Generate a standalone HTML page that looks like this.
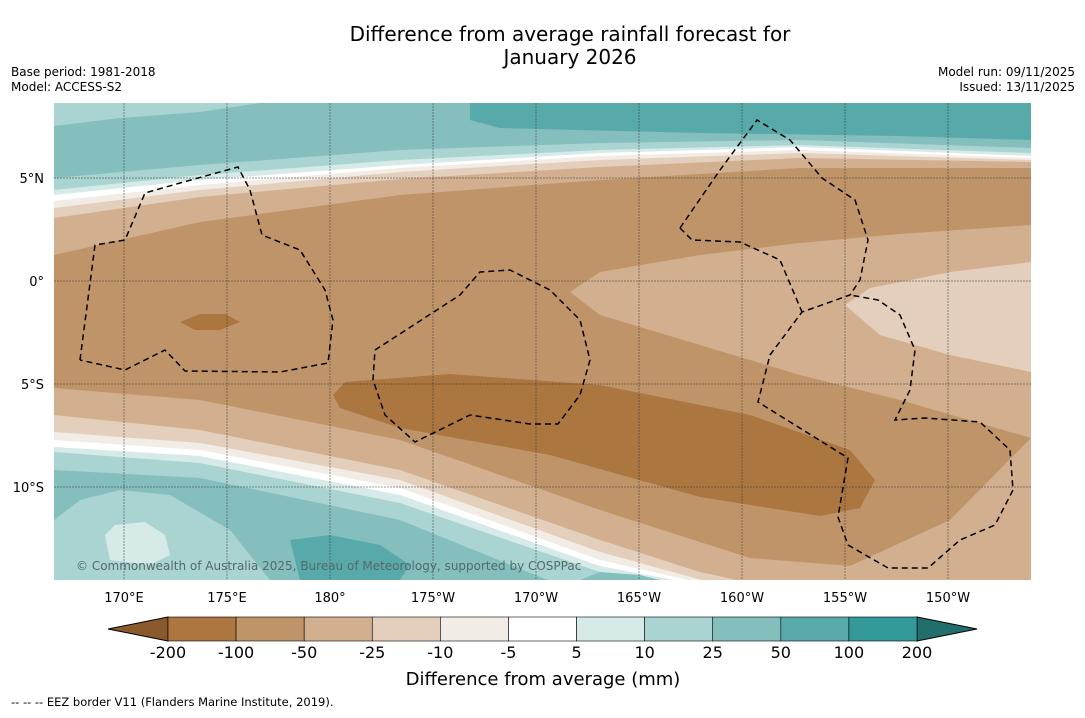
<!DOCTYPE html>
<html><head><meta charset="utf-8"><style>
body{margin:0;background:#fff;width:1085px;height:713px;overflow:hidden;font-family:"Liberation Sans","DejaVu Sans",sans-serif}
svg text{font-family:"DejaVu Sans","Liberation Sans",sans-serif}
</style></head><body>
<svg id="s" width="1085" height="713" xmlns="http://www.w3.org/2000/svg">
<text x="570" y="41" font-size="20" text-anchor="middle">Difference from average rainfall forecast for</text>
<text x="570" y="64" font-size="20" text-anchor="middle">January 2026</text>
<text x="11" y="76" font-size="12">Base period: 1981-2018</text>
<text x="11" y="91" font-size="12">Model: ACCESS-S2</text>
<text x="1075" y="76" font-size="12" text-anchor="end">Model run: 09/11/2025</text>
<text x="1075" y="91" font-size="12" text-anchor="end">Issued: 13/11/2025</text>
<defs><clipPath id="mc"><rect x="54" y="103" width="977" height="477"/></clipPath></defs>
<g id="map" clip-path="url(#mc)"></g>
<g id="cb"></g>
<text x="543" y="685" font-size="18" text-anchor="middle">Difference from average (mm)</text>
<text x="11" y="706" font-size="11.5">--  --  -- EEZ border V11 (Flanders Marine Institute, 2019).</text>
</svg>
<script>
const levels=["-200","-100","-50","-25","-10","-5","5","10","25","50","100","200"];
const colors=["#ab7640","#c09469","#d2b08f","#e3cfbc","#f2ece6","#ffffff","#d6eae8","#a9d4d2","#84bfbe","#58aaaa","#339a99"];
const lonLabels=["170°E","175°E","180°","175°W","170°W","165°W","160°W","155°W","150°W"];
const lonValues=[170,175,180,185,190,195,200,205,210];
const latLabels=["5°N","0°","5°S","10°S"];
const latValues=[5,0,-5,-10];
const NS="http://www.w3.org/2000/svg";
const X=l=>124+(l-170)*20.6, Y=t=>281-t*20.6;
const map=document.getElementById('map'), cb=document.getElementById('cb'), svg=document.getElementById('s');
function poly(par,pts,fill,name){const p=document.createElementNS(NS,'polygon');p.setAttribute('points',pts.map(q=>q.join(',')).join(' '));p.setAttribute('fill',fill);


par.appendChild(p);return p;}
const B=600;
poly(map,[[54,103],[1031,103],[1031,B],[54,B]],colors[8],'band-25-50');
poly(map,[[54,103],[260,103],[200,112],[120,118],[54,126]],colors[7],'band-10-25-nw');
poly(map,[[470,103],[1031,103],[1031,140],[900,136],[700,133],[500,128],[470,120]],colors[9],'band-50-100-north');
const north=[
[7,[[54,178],[200,165],[400,150],[600,143],[800,140],[1031,148]]],
[6,[[54,190],[200,175],[400,160],[600,150],[800,145],[1031,153]]],
[5,[[54,195],[200,180],[400,165],[600,153],[800,147],[1031,156]]],
[4,[[54,201],[200,185],[400,168],[600,156],[800,150],[1031,158]]],
[3,[[54,208],[200,190],[400,172],[600,160],[800,153],[1031,160]]],
[2,[[54,218],[200,197],[400,179],[600,167],[800,158],[1031,162]]],
[1,[[54,255],[200,222],[400,195],[600,180],[800,168],[1031,168]]]];
north.forEach(([c,pts])=>poly(map,[...pts,[1031,B],[54,B]],colors[c],'north-band-'+c));
poly(map,[[570,292],[600,272],[700,255],[800,243],[900,234],[1031,225],[1031,438],[900,400],[800,375],[700,345],[600,315]],colors[2],'tan-wedge');
poly(map,[[845,305],[870,288],[950,272],[1031,262],[1031,372],[950,355],[880,335]],colors[3],'light-wedge');
poly(map,[[345,382],[450,374],[600,385],[750,415],[850,450],[875,480],[860,508],[820,516],[700,497],[550,455],[400,428],[340,408],[333,395]],colors[0],'dark-brown-blob');
poly(map,[[180,322],[200,314],[225,314],[240,322],[220,330],[195,330]],colors[0],'dark-brown-patch');
const south=[
[2,[[54,388],[200,400],[400,440],[600,510],[750,558],[850,566],[950,520],[1031,438]]],
[3,[[54,415],[200,430],[400,470],[600,540],[700,572],[760,585]]],
[4,[[54,432],[200,443],[400,480],[600,552],[720,585]]],
[5,[[54,440],[200,450],[400,488],[600,560],[710,585]]],
[6,[[54,447],[200,456],[400,495],[600,566],[700,585]]],
[7,[[54,452],[200,463],[400,503],[600,572],[690,587]]],
[8,[[54,470],[200,478],[400,520],[560,585]]]];
south.forEach(([c,pts])=>{const l=pts[pts.length-1];poly(map,[...pts,[l[0],B],[54,B]],colors[c],'south-band-'+c);});
poly(map,[[54,580],[54,520],[80,500],[120,490],[170,495],[230,530],[270,580]],colors[7],'band-10-25-sw');
poly(map,[[105,535],[115,525],[145,522],[165,535],[170,555],[150,565],[110,560]],colors[6],'band-5-10-sw');
poly(map,[[290,540],[330,535],[380,545],[410,565],[400,580],[300,580]],colors[9],'band-50-100-south');
poly(map,[[580,580],[600,572],[640,575],[660,580]],colors[8],'band-south-teal');
// grid
lonValues.forEach((v,i)=>{const l=document.createElementNS(NS,'line');l.setAttribute('x1',X(v));l.setAttribute('x2',X(v));l.setAttribute('y1',103);l.setAttribute('y2',580);l.setAttribute('stroke','#333');l.setAttribute('stroke-width','0.5');l.setAttribute('stroke-dasharray','2,1');


map.appendChild(l);
const t=document.createElementNS(NS,'text');t.setAttribute('x',X(v));t.setAttribute('y',602);t.setAttribute('font-size','13');t.setAttribute('text-anchor','middle');t.textContent=lonLabels[i];


svg.appendChild(t);});
latValues.forEach((v,i)=>{const l=document.createElementNS(NS,'line');l.setAttribute('x1',54);l.setAttribute('x2',1031);l.setAttribute('y1',Y(v));l.setAttribute('y2',Y(v));l.setAttribute('stroke','#333');l.setAttribute('stroke-width','0.5');l.setAttribute('stroke-dasharray','2,1');


map.appendChild(l);
const t=document.createElementNS(NS,'text');t.setAttribute('x',44);t.setAttribute('y',Y(v)+5);t.setAttribute('font-size','13');t.setAttribute('text-anchor','end');t.textContent=latLabels[i];


svg.appendChild(t);});
// EEZ
const eez=[
[[80,360],[95,245],[125,240],[145,193],[180,183],[238,167],[250,190],[262,235],[300,250],[325,290],[333,320],[328,363],[280,372],[185,371],[165,350],[125,370],[80,360]],
[[375,350],[460,295],[480,272],[510,270],[550,290],[580,320],[590,360],[580,395],[558,424],[530,424],[470,415],[415,442],[385,415],[373,380],[375,350]],
[[680,228],[720,170],[757,120],[790,140],[822,178],[855,200],[868,240],[860,280],[850,295],[802,312],[770,355],[758,402],[848,458],[838,517],[848,545],[888,568],[928,568],[960,540],[995,525],[1013,490],[1010,450],[980,422],[925,418],[895,420],[910,390],[915,350],[900,315],[878,300],[850,295]],
[[680,228],[692,240],[740,242],[780,260],[802,312]]];
eez.forEach(pts=>{const p=document.createElementNS(NS,'polyline');p.setAttribute('points',pts.map(q=>q.join(',')).join(' '));p.setAttribute('fill','none');p.setAttribute('stroke','#000');p.setAttribute('stroke-width','1.5');p.setAttribute('stroke-dasharray','6,4');


map.appendChild(p);});
const cr=document.createElementNS(NS,'text');cr.setAttribute('x',76);cr.setAttribute('y',570);cr.setAttribute('font-size','12');cr.setAttribute('fill','#55696b');cr.textContent='© Commonwealth of Australia 2025, Bureau of Meteorology, supported by COSPPac';


map.appendChild(cr);
// colorbar
const x0=168,x1=917,w=(x1-x0)/colors.length,cy=617,ch=24;
poly(cb,[[108,cy+ch/2],[x0,cy],[x0,cy+ch]],'#8a5a2c','colorbar-min-arrow').setAttribute('stroke','#000');
poly(cb,[[977,cy+ch/2],[x1,cy],[x1,cy+ch]],'#216e6d','colorbar-max-arrow').setAttribute('stroke','#000');
colors.forEach((c,i)=>{const r=document.createElementNS(NS,'rect');r.setAttribute('x',x0+i*w);r.setAttribute('y',cy);r.setAttribute('width',w);r.setAttribute('height',ch);r.setAttribute('fill',c);r.setAttribute('stroke','#000');r.setAttribute('stroke-width','0.6');


cb.appendChild(r);});
levels.forEach((v,i)=>{const t=document.createElementNS(NS,'text');t.setAttribute('x',x0+i*w);t.setAttribute('y',658);t.setAttribute('font-size','16');t.setAttribute('text-anchor','middle');t.textContent=v;


cb.appendChild(t);});
</script>
</body></html>
